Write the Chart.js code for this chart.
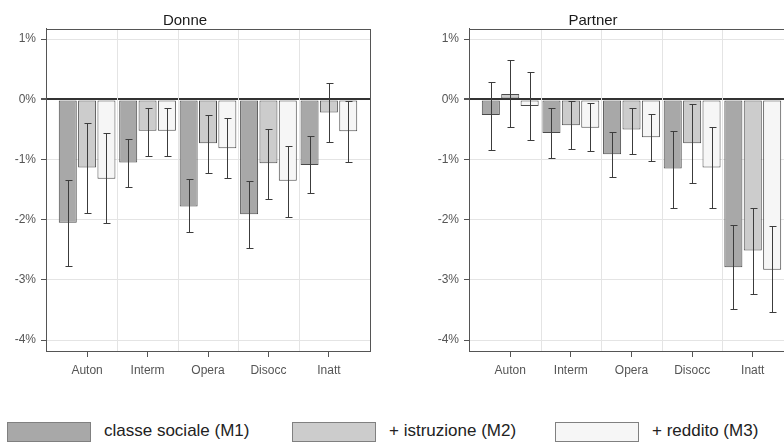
<!DOCTYPE html>
<html>
<head>
<meta charset="utf-8">
<script src="https://cdn.jsdelivr.net/npm/chart.js@4/dist/chart.umd.min.js"></script>
<style>
  html, body { margin: 0; padding: 0; background: #fff; width: 784px; height: 445px; overflow: hidden; position: relative; }
  canvas { position: absolute; top: 0; }
  #donneChart { left: 0; }
  #partnerChart { left: 392px; }
  .legBox { position: absolute; top: 422px; width: 84px; height: 20px; border: 1px solid #808080; box-sizing: border-box; }
  .legText { position: absolute; top: 420px; font-family: "Liberation Sans", sans-serif; font-size: 17px; color: #222; line-height: 22px; white-space: nowrap; }
</style>
</head>
<body>
<canvas id="donneChart" width="392" height="400"></canvas>
<canvas id="partnerChart" width="420" height="400"></canvas>
<div id="legend"></div>
<script>
const categories = ["Auton", "Interm", "Opera", "Disocc", "Inatt"];
const yTicks = [1, 0, -1, -2, -3, -4];
const seriesNames = ["classe sociale (M1)", "+ istruzione (M2)", "+ reddito (M3)"];
const seriesColors = ["#a8a8a8", "#cccccc", "#f6f6f6"];

// Donne
const donneM1 = [-2.05, -1.05, -1.78, -1.91, -1.09];
const donneM1Hi = [-1.34, -0.65, -1.33, -1.35, -0.61];
const donneM1Lo = [-2.76, -1.45, -2.21, -2.47, -1.55];
const donneM2 = [-1.13, -0.52, -0.73, -1.06, -0.22];
const donneM2Hi = [-0.40, -0.15, -0.26, -0.49, 0.27];
const donneM2Lo = [-1.88, -0.94, -1.23, -1.66, -0.71];
const donneM3 = [-1.32, -0.52, -0.81, -1.35, -0.53];
const donneM3Hi = [-0.56, -0.14, -0.31, -0.77, -0.03];
const donneM3Lo = [-2.05, -0.94, -1.30, -1.95, -1.04];

// Partner
const partnerM1 = [-0.26, -0.56, -0.91, -1.15, -2.79];
const partnerM1Hi = [0.29, -0.15, -0.54, -0.52, -2.08];
const partnerM1Lo = [-0.84, -0.98, -1.29, -1.81, -3.49];
const partnerM2 = [0.09, -0.43, -0.50, -0.73, -2.51];
const partnerM2Hi = [0.65, -0.02, -0.14, -0.08, -1.81];
const partnerM2Lo = [-0.46, -0.83, -0.90, -1.39, -3.24];
const partnerM3 = [-0.11, -0.47, -0.63, -1.13, -2.83];
const partnerM3Hi = [0.46, -0.06, -0.24, -0.46, -2.11];
const partnerM3Lo = [-0.68, -0.86, -1.03, -1.80, -3.53];

const errorBars = {
    id: "errorBars",
    afterDatasetsDraw(chart) {
        const ctx = chart.ctx, y = chart.scales.y;
        ctx.save();
        ctx.strokeStyle = "#3c3c3c";
        ctx.lineWidth = 1;
        chart.data.datasets.forEach((ds, di) => {
            chart.getDatasetMeta(di).data.forEach((bar, i) => {
                const x = Math.round(bar.x) + 0.5;
                const top = Math.round(y.getPixelForValue(ds.errHi[i])) + 0.5;
                const bot = Math.round(y.getPixelForValue(ds.errLo[i])) + 0.5;
                ctx.beginPath();
                ctx.moveTo(x, top); ctx.lineTo(x, bot);
                ctx.moveTo(x - 3, top); ctx.lineTo(x + 4, top);
                ctx.moveTo(x - 3, bot); ctx.lineTo(x + 4, bot);
                ctx.stroke();
            });
        });
        ctx.restore();
    }
};

// light vertical lines between categories + box round the plot
const frame = {
    id: "frame",
    beforeDatasetsDraw(chart) {
        const ctx = chart.ctx, x = chart.scales.x, a = chart.chartArea;
        ctx.save();
        ctx.strokeStyle = "#e4e4e4";
        ctx.lineWidth = 1;
        for (let i = 0; i < categories.length - 1; i++) {
            const px = Math.round(x.getPixelForValue(i + 0.5)) + 0.5;
            ctx.beginPath();
            ctx.moveTo(px, a.top); ctx.lineTo(px, a.bottom);
            ctx.stroke();
        }
        ctx.restore();
    },
    afterDraw(chart) {
        const ctx = chart.ctx, a = chart.chartArea;
        ctx.save();
        ctx.strokeStyle = "#555";
        ctx.lineWidth = 1;
        ctx.strokeRect(Math.round(a.left) + 0.5, Math.round(a.top) + 0.5, Math.round(a.right - a.left), Math.round(a.bottom - a.top));
        ctx.restore();
    }
};

function makeDataset(i, vals, hi, lo) {
    return {
        label: seriesNames[i],
        data: categories.map((c, k) => ({ x: k, y: vals[k] })),
        errHi: hi,
        errLo: lo,
        backgroundColor: seriesColors[i],
        borderColor: "#4a4a4a",
        borderWidth: 1,
        borderSkipped: false,
        categoryPercentage: 0.96,
        barPercentage: 0.93
    };
}

function createChart(id, titleText, datasets, yWidth, padRight) {
    let ctx = document.getElementById(id).getContext("2d");
    return new Chart(ctx, {
        type: "bar",
        data: { datasets: datasets },
        options: {
            responsive: false,
            animation: false,
            layout: { padding: { left: 0, right: padRight, top: 0, bottom: 14 } },
            plugins: {
                legend: { display: false },
                tooltip: { enabled: false },
                title: {
                    display: true,
                    text: titleText,
                    color: "#1a1a1a",
                    font: { size: 15, family: "Liberation Sans", weight: "normal", lineHeight: 1.13 },
                    padding: { top: 12, bottom: 0 }
                }
            },
            scales: {
                x: {
                    type: "linear",
                    min: -0.68,
                    max: 4.68,
                    offset: false,
                    afterBuildTicks: s => { s.ticks = categories.map((c, k) => ({ value: k })); },
                    afterFit: s => { s.height = 35; },
                    ticks: {
                        callback: v => categories[v],
                        color: "#555",
                        font: { size: 12, family: "Liberation Sans" },
                        padding: 6,
                        maxRotation: 0,
                        autoSkip: false
                    },
                    grid: { display: true, offset: false, drawOnChartArea: false, drawTicks: true, tickLength: 6, tickColor: "#555" },
                    border: { color: "#555" }
                },
                y: {
                    min: -4.18,
                    max: 1.17,
                    afterBuildTicks: s => { s.ticks = yTicks.map(v => ({ value: v })); },
                    afterFit: s => { s.width = yWidth; },
                    ticks: {
                        callback: v => v + "%",
                        color: "#555",
                        font: { size: 12, family: "Liberation Sans" },
                        padding: 5
                    },
                    grid: {
                        color: c => c.tick && c.tick.value === 0 ? "#333" : "#e4e4e4",
                        lineWidth: c => c.tick && c.tick.value === 0 ? 2 : 1,
                        tickLength: 5,
                        tickColor: "#555"
                    },
                    border: { color: "#555" }
                }
            }
        },
        plugins: [frame, errorBars]
    });
}

createChart("donneChart", "Donne", [
    makeDataset(0, donneM1, donneM1Hi, donneM1Lo),
    makeDataset(1, donneM2, donneM2Hi, donneM2Lo),
    makeDataset(2, donneM3, donneM3Hi, donneM3Lo)
], 46, 22);

createChart("partnerChart", "Partner", [
    makeDataset(0, partnerM1, partnerM1Hi, partnerM1Lo),
    makeDataset(1, partnerM2, partnerM2Hi, partnerM2Lo),
    makeDataset(2, partnerM3, partnerM3Hi, partnerM3Lo)
], 77, 18);

// legend under both panels
const legendX = [7, 292, 555];
const legend = document.getElementById("legend");
seriesNames.forEach((name, i) => {
    let box = document.createElement("div");
    box.className = "legBox";
    box.style.left = legendX[i] + "px";
    box.style.background = seriesColors[i];
    legend.appendChild(box);
    let txt = document.createElement("div");
    txt.className = "legText";
    txt.style.left = (legendX[i] + 97) + "px";
    txt.textContent = name;
    legend.appendChild(txt);
});
</script>
</body>
</html>
